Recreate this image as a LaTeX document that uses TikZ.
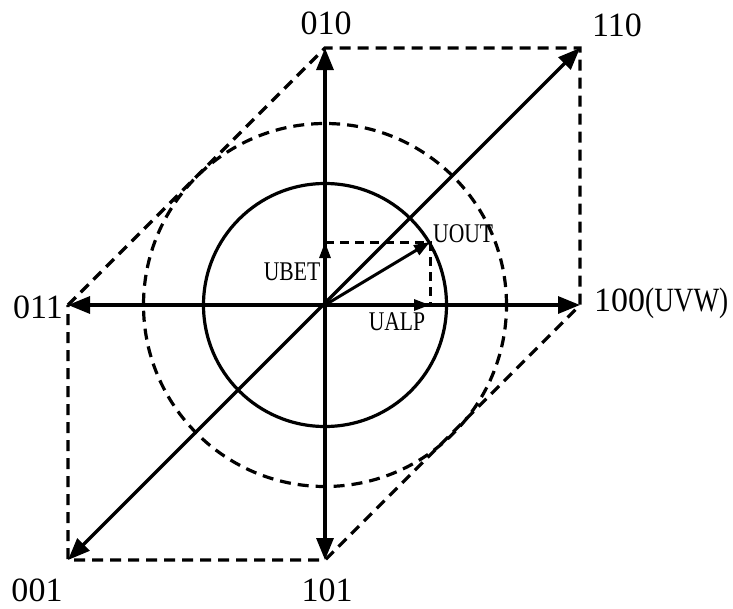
\documentclass[tikz,border=0pt]{standalone}
\usepackage{fontspec}
\setmainfont{Liberation Serif}
\newfontfamily\condfont[FakeStretch=0.8]{Liberation Serif}
\usetikzlibrary{arrows.meta}
\begin{document}
\begin{tikzpicture}[x=1pt,y=-1pt,
  big/.style={line width=3.2pt, {Triangle[length=22pt,width=17pt]}-{Triangle[length=22pt,width=17pt]}},
  vec/.style={line width=3pt, -{Triangle[length=16pt,width=11pt]}},
  hexdash/.style={line width=3.2pt, dash pattern=on 11pt off 7pt},
  guide/.style={line width=3pt, dash pattern=on 9pt off 6pt},
  vlabel/.style={inner sep=0pt, font=\fontsize{34}{34}\selectfont},
  slabel/.style={inner sep=0pt, font=\condfont\fontsize{27}{27}\selectfont}
]
\useasboundingbox (0,0) rectangle (733,608);
% vertices
\coordinate (O) at (325,305);
\coordinate (v100) at (580,305);
\coordinate (v110) at (580,48);
\coordinate (v010) at (325,48);
\coordinate (v011) at (68,305);
\coordinate (v001) at (68,560);
\coordinate (v101) at (325,560);
\coordinate (ua) at (430,305);
\coordinate (ub) at (325,242);
\coordinate (uo) at (430,242);
% circles
\draw[line width=3.2pt] (O) circle[radius=121.5pt];
\draw[line width=3.2pt, dash pattern=on 11pt off 7pt] (O) circle[radius=181.5pt];
% hexagon
\draw[hexdash] (v011) -- (v010) -- (v110) -- (v100) -- (v101) -- (v001) -- cycle;
% axes
\draw[big] (v011) -- (v100);
\draw[big] (v101) -- (v010);
\draw[big] (v001) -- (v110);
% projections
\draw[guide] (ub) -- (uo) -- (ua);
\draw[vec] (O) -- (ua);
\draw[vec] (O) -- (ub);
\draw[vec] (O) -- (uo);
% labels
\node[vlabel] (l010) at (326,23) {010};
\node[vlabel] (l110) at (617,25) {110};
\node[vlabel] (l011) at (38,307) {011};
\node[vlabel, anchor=west] (l100) at (594,303) {100{\condfont(UVW)}};
\node[vlabel] (l001) at (37,590) {001};
\node[vlabel] (l101) at (327,590) {101};
\node[slabel] (lbet) at (292,272) {UBET};
\node[slabel] (lalp) at (397,322) {UALP};
\node[slabel, anchor=west] (lout) at (433,234) {UOUT};
\end{tikzpicture}
\end{document}
